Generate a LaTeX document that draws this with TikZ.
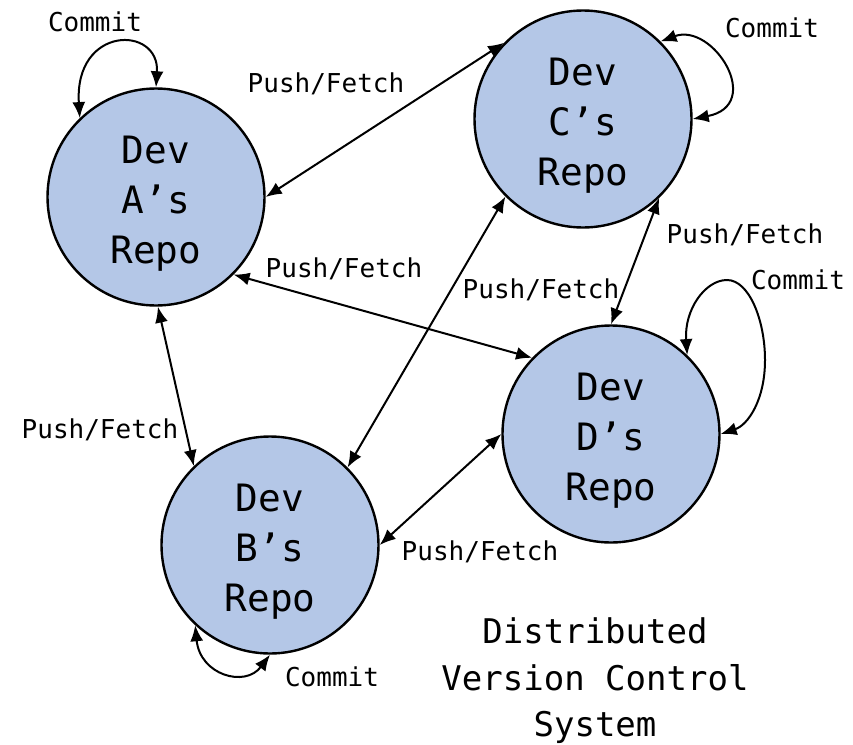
\documentclass[tikz,border=0pt]{standalone}
\usepackage{fontspec}
\newfontfamily\dmono{DejaVu Sans Mono}
\usetikzlibrary{arrows.meta}
\definecolor{repofill}{RGB}{180,199,231}
\newcommand{\repotext}[1]{\raisebox{-6pt}[\height][\depth]{\begin{tabular}{@{}c@{}}Dev\\#1’s\\Repo\end{tabular}}}
\begin{document}
\begin{tikzpicture}[x=1pt,y=-1pt,
  repo/.style={circle,draw,line width=2.4pt,fill=repofill,minimum size=217pt,inner sep=0pt,font=\dmono\fontsize{37.7}{50}\selectfont},
  lbl/.style={font=\dmono\fontsize{26}{30}\selectfont,inner sep=0pt},
  ttl/.style={font=\dmono\fontsize{34}{46.5}\selectfont,inner sep=0pt,align=center},
  link/.style={line width=2pt,{Latex[length=16pt,width=13pt]}-{Latex[length=16pt,width=13pt]}},
]
\useasboundingbox (0,0) rectangle (853,744);
\node[repo] (A) at (156,197) {\repotext{A}};
\node[repo] (C) at (583,119) {\repotext{C}};
\node[repo] (B) at (270,545) {\repotext{B}};
\node[repo] (D) at (611,434) {\repotext{D}};

\draw[link] (A.0) -- (C.136);
\draw[link] (A.-45) -- (D.136);
\draw[link] (A.-89) -- (B.134);
\draw[link] (B.45) -- (C.225);
\draw[link] (B.0) -- (D.180);
\draw[link] (C.-46) -- (D.90);

% commit loops
\draw[link] (A.134) .. controls (74,25) and (160,25) .. (A.90);
\draw[link] (C.45) .. controls (713,22) and (765,105) .. (C.0);
\draw[link] (D.46) .. controls (684,310) and (705,280) .. (727,280)
   .. controls (749,280) and (765,320) .. (765,360)
   .. controls (765,400) and (748,425) .. (D.0);
\draw[link] (B.227) .. controls (200,675) and (245,688) .. (B.270);

\node[lbl] (cA) at (95,22) {Commit};
\node[lbl] (cC) at (772,28) {Commit};
\node[lbl] (cD) at (798,280) {Commit};
\node[lbl] (cB) at (332,677) {Commit};
\node[lbl] (pAC) at (326,84) {Push/Fetch};
\node[lbl] (pAD) at (344,269) {Push/Fetch};
\node[lbl] (pCD) at (745,235) {Push/Fetch};
\node[lbl] (pBC) at (541,290) {Push/Fetch};
\node[lbl] (pAB) at (100,430) {Push/Fetch};
\node[lbl] (pBD) at (480,552) {Push/Fetch};
\node[ttl] (title) at (595,681) {Distributed\\Version Control\\System};
\end{tikzpicture}
\end{document}
